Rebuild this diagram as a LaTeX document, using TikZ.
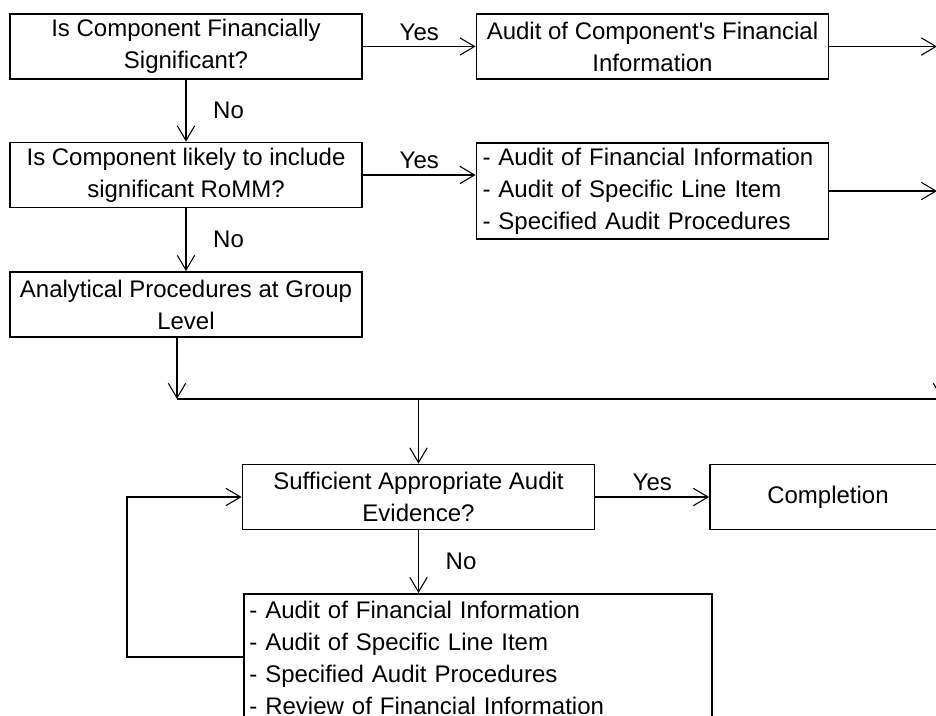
\documentclass[tikz,border=0pt]{standalone}
\usepackage{fontspec}
\setmainfont{Liberation Sans}
\usetikzlibrary{arrows.meta, positioning}

\begin{document}
\begin{tikzpicture}[x=0.75pt, y=-0.75pt,
    box/.style={draw, line width=1.4pt, minimum width=264pt, minimum height=48.75pt,
        inner sep=0pt, align=center, font=\fontsize{18pt}{24pt}\selectfont},
    listbox/.style={box, align=left, inner xsep=4pt, text width=255pt},
    flow/.style={-{Straight Barb[length=11pt,width=13pt]}, line width=0.8pt},
    lbl/.style={font=\fontsize{18pt}{24pt}\selectfont, inner sep=0pt}]
    \useasboundingbox (0,0) rectangle (936,716);
    \clip (0,0) rectangle (936,716);

    \node[box] (fin)  at (186,46.5)  {Is Component Financially\\Significant?};
    \node[box] (afi)  at (652.5,46.5) {Audit of Component\textquotesingle s Financial\\Information};
    \node[box] (romm) at (186,175)   {Is Component likely to include\\significant RoMM?};
    \node[listbox, minimum height=72pt] (proc) at (652.5,191)
        {- Audit of Financial Information\\- Audit of Specific Line Item\\- Specified Audit Procedures};
    \node[box] (anal) at (186,304.5) {Analytical Procedures at Group\\Level};
    \node[box] (suff) at (418.5,497) {Sufficient Appropriate Audit\\Evidence?};
    \node[box, minimum width=177pt] (compl) at (828,497) {Completion};
    \node[listbox, text width=343pt, anchor=north west, inner ysep=5.5pt] (more) at (243,593)
        {- Audit of Financial Information\\- Audit of Specific Line Item\\- Specified Audit Procedures\\- Review of Financial Information};

    \coordinate (out1) at (937,46.5);
    \coordinate (out2) at (937,191);
    \coordinate (mergeL) at (177,399);
    \coordinate (mergeR) at (960,399);
    \coordinate (inR) at (942,360);
    \coordinate (loopB) at (127,657);

    \draw[flow] (fin.east) to node[lbl, midway, above=4pt] {Yes} (afi.west);
    \draw[flow] (afi.east) -- (out1);
    \draw[flow] (fin.south) to node[lbl, midway, right=20pt] {No} (romm.north);
    \draw[flow] (romm.east) to node[lbl, midway, above=4pt] {Yes} (romm.east -| proc.west);
    \draw[flow] (proc.east) -- (out2);
    \draw[flow] (romm.south) to node[lbl, midway, right=20pt] {No} (anal.north);
    \draw[flow] (anal.south -| mergeL) -- (mergeL);
    \draw[line width=0.8pt] (mergeL) -- (mergeR);
    \draw[flow] (inR) -- (inR |- mergeL);
    \draw[flow] (suff.north |- mergeL) -- (suff.north);
    \draw[flow] (suff.east) to node[lbl, midway, above=4pt] {Yes} (compl.west);
    \draw[flow] (suff.south) to node[lbl, midway, right=20pt] {No} (more.north -| suff.south);
    \draw[flow] (loopB -| more.west) -- (loopB) |- (suff.west);
\end{tikzpicture}
\end{document}
